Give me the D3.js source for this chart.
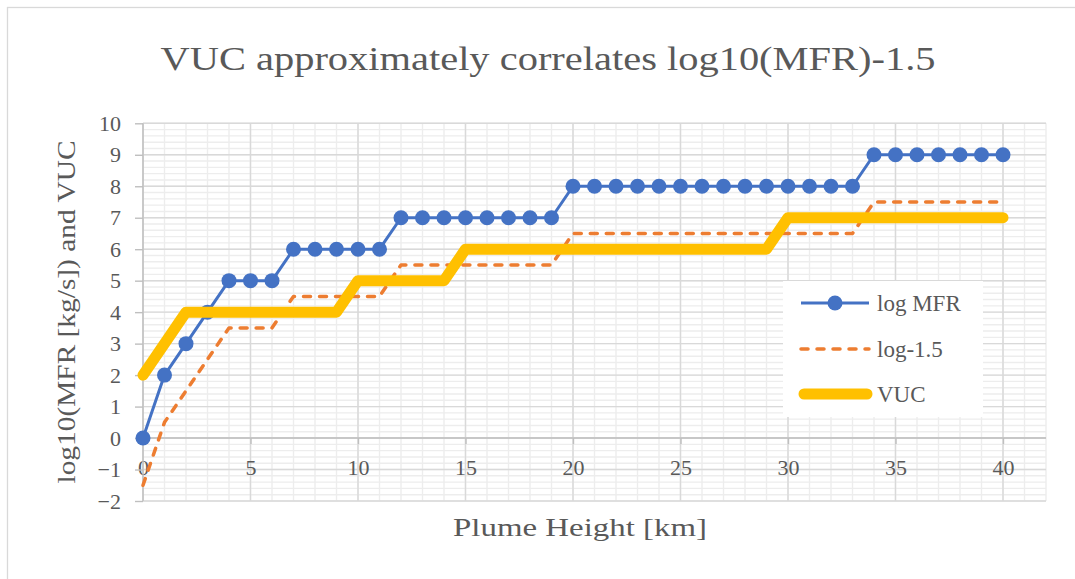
<!DOCTYPE html>
<html>
<head>
<meta charset="utf-8">
<script src="https://cdn.jsdelivr.net/npm/d3@7"></script>
<style>
  body { margin: 0; background: #fff; }
  text { font-family: "Liberation Serif", "DejaVu Serif", serif; fill: #595959; }
</style>
</head>
<body>
<svg id="chart" width="1075" height="579"></svg>
<script>
// plume height vs log mass flow rate

var heights = [0,1,2,3,4,5,6,7,8,9,10,11,12,13,14,15,16,17,18,19,20,
  21,22,23,24,25,26,27,28,29,30,31,32,33,34,35,36,37,38,39,40];
var logMFR = [0,2,3,4,5,5,5,6,6,6,6,6,7,7,7,7,7,7,7,7,8,
  8,8,8,8,8,8,8,8,8,8,8,8,8,9,9,9,9,9,9,9];
var logMinus = [-1.5,0.5,1.5,2.5,3.5,3.5,3.5,4.5,4.5,4.5,4.5,4.5,5.5,5.5,5.5,5.5,5.5,5.5,5.5,5.5,6.5,
  6.5,6.5,6.5,6.5,6.5,6.5,6.5,6.5,6.5,6.5,6.5,6.5,6.5,7.5,7.5,7.5,7.5,7.5,7.5,7.5];
var vuc = [2,3,4,4,4,4,4,4,4,4,5,5,5,5,5,6,6,6,6,6,6,
  6,6,6,6,6,6,6,6,6,7,7,7,7,7,7,7,7,7,7,7];
var seriesNames = ["log MFR", "log-1.5", "VUC"];
var xTicks = [0,5,10,15,20,25,30,35,40];
var yTicks = [-2,-1,0,1,2,3,4,5,6,7,8,9,10];

var svg = d3.select("#chart");

// chart border
svg.append("rect")
  .attr("x", 7.5).attr("y", 7.5)
  .attr("width", 1100).attr("height", 600)
  .attr("fill", "#fff")
  .attr("stroke", "#d9d9d9")
  .attr("stroke-width", 1.3);

var x = d3.scaleLinear().domain([0, 42]).range([143, 1046]);
var y = d3.scaleLinear().domain([-2, 10]).range([501, 123.3]);

// minor grid
var minorX = d3.range(0, 43, 1);
var minorY = d3.range(-2, 10.001, 0.2);
svg.append("g").selectAll("line").data(minorY).enter().append("line")
  .attr("x1", x(0)).attr("x2", x(42))
  .attr("y1", function(d) { return y(d); })
  .attr("y2", function(d) { return y(d); })
  .attr("stroke", "#ededed").attr("stroke-width", 1.4);
svg.append("g").selectAll("line").data(minorX).enter().append("line")
  .attr("y1", y(-2)).attr("y2", y(10))
  .attr("x1", function(d) { return x(d); })
  .attr("x2", function(d) { return x(d); })
  .attr("stroke", "#ededed").attr("stroke-width", 1.4);

// major grid
svg.append("g").selectAll("line").data(yTicks).enter().append("line")
  .attr("x1", x(0)).attr("x2", x(42))
  .attr("y1", function(d) { return y(d); })
  .attr("y2", function(d) { return y(d); })
  .attr("stroke", "#d9d9d9").attr("stroke-width", 1.4);
svg.append("g").selectAll("line").data(xTicks).enter().append("line")
  .attr("y1", y(-2)).attr("y2", y(10))
  .attr("x1", function(d) { return x(d); })
  .attr("x2", function(d) { return x(d); })
  .attr("stroke", "#d9d9d9").attr("stroke-width", 1.4);

// axes
var xAxis = d3.axisBottom(x).tickValues(xTicks).tickSize(6).tickPadding(15);
var yAxis = d3.axisLeft(y).tickValues(yTicks).tickSize(8).tickPadding(14);

var gx = svg.append("g")
  .attr("transform", "translate(0," + y(0) + ")")
  .call(xAxis);
gx.select(".domain").attr("d", "M" + x(0) + ",0H" + x(42));
var gy = svg.append("g")
  .attr("transform", "translate(" + x(0) + ",0)")
  .call(yAxis);
gy.select(".domain").attr("d", "M0," + y(-2) + "V" + y(10));

gx.attr("font-family", "Liberation Serif").attr("font-size", 22);
gy.attr("font-family", "Liberation Serif").attr("font-size", 22);
svg.selectAll(".domain, .tick line")
  .attr("stroke", "#bfbfbf").attr("stroke-width", 1.4);
svg.selectAll(".tick text")
  .attr("fill", "#595959");

// series
var line = d3.line()
  .x(function(d, i) { return x(heights[i]); })
  .y(function(d) { return y(d); });

svg.append("path").datum(logMFR)
  .attr("d", line)
  .attr("fill", "none")
  .attr("stroke", "#4472c4")
  .attr("stroke-width", 3)
  .attr("stroke-linejoin", "round");
svg.append("g").selectAll("circle").data(logMFR).enter().append("circle")
  .attr("cx", function(d, i) { return x(heights[i]); })
  .attr("cy", function(d) { return y(d); })
  .attr("r", 7.5)
  .attr("fill", "#4472c4");

svg.append("path").datum(logMinus)
  .attr("d", line)
  .attr("fill", "none")
  .attr("stroke", "#ed7d31")
  .attr("stroke-width", 3.5)
  .attr("stroke-dasharray", "7 9")
  .attr("stroke-linecap", "round")
  .attr("stroke-linejoin", "round");

svg.append("path").datum(vuc)
  .attr("d", line)
  .attr("fill", "none")
  .attr("stroke", "#ffc000")
  .attr("stroke-width", 11)
  .attr("stroke-linecap", "round")
  .attr("stroke-linejoin", "round");

// legend
var legend = svg.append("g");
legend.append("rect")
  .attr("x", 783).attr("y", 281)
  .attr("width", 200).attr("height", 136)
  .attr("fill", "#fff");
var rows = [303, 349, 394];
legend.append("line")
  .attr("x1", 801).attr("x2", 869).attr("y1", rows[0]).attr("y2", rows[0])
  .attr("stroke", "#4472c4").attr("stroke-width", 3);
legend.append("circle")
  .attr("cx", 835).attr("cy", rows[0]).attr("r", 7.5).attr("fill", "#4472c4");
legend.append("line")
  .attr("x1", 801).attr("x2", 869).attr("y1", rows[1]).attr("y2", rows[1])
  .attr("stroke", "#ed7d31").attr("stroke-width", 3.5)
  .attr("stroke-dasharray", "7 9").attr("stroke-linecap", "round");
legend.append("line")
  .attr("x1", 804).attr("x2", 867).attr("y1", rows[2]).attr("y2", rows[2])
  .attr("stroke", "#ffc000").attr("stroke-width", 11)
  .attr("stroke-linecap", "round");
legend.selectAll("text").data(seriesNames).enter().append("text")
  .attr("x", 877)
  .attr("y", function(d, i) { return rows[i] + 8; })
  .style("font-size", "23px")
  .text(function(d) { return d; });

// titles
svg.append("text")
  .attr("x", 548).attr("y", 70)
  .attr("text-anchor", "middle")
  .attr("textLength", 775)
  .attr("lengthAdjust", "spacingAndGlyphs")
  .style("font-size", "34px")
  .text("VUC approximately correlates log10(MFR)-1.5");

svg.append("text")
  .attr("x", 580).attr("y", 536)
  .attr("text-anchor", "middle")
  .attr("textLength", 254)
  .attr("lengthAdjust", "spacingAndGlyphs")
  .style("font-size", "25px")
  .text("Plume Height [km]");

svg.append("text")
  .attr("transform", "translate(75,312) rotate(-90)")
  .attr("text-anchor", "middle")
  .attr("textLength", 343)
  .attr("lengthAdjust", "spacingAndGlyphs")
  .style("font-size", "25px")
  .text("log10(MFR [kg/s]) and VUC");
</script>
</body>
</html>
